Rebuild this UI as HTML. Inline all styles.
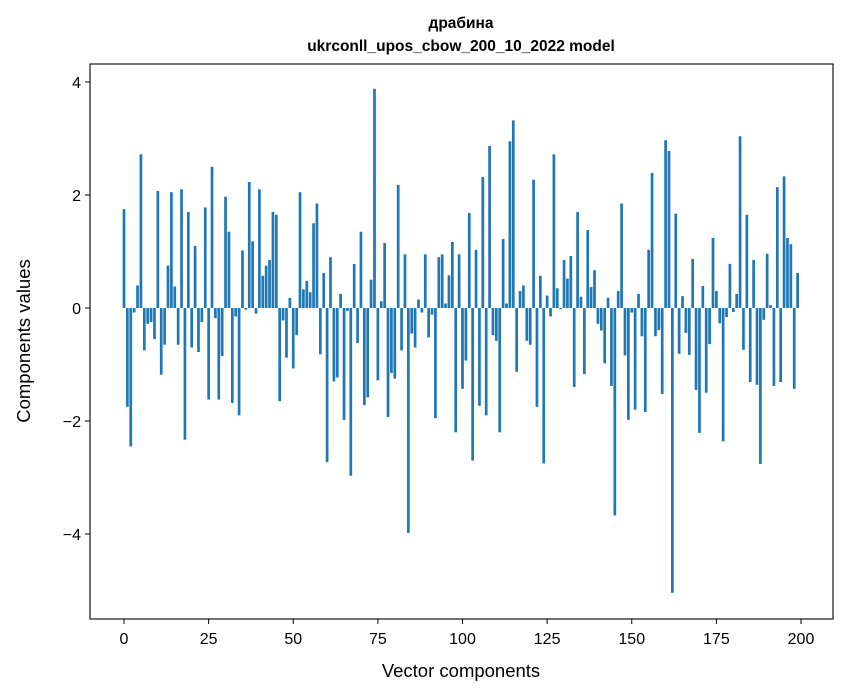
<!DOCTYPE html>
<html><head><meta charset="utf-8"><style>
body{margin:0;background:#fff;}
svg{display:block;font-family:"Liberation Sans","DejaVu Sans",sans-serif;}
</style></head><body>
<svg id="chart" width="847" height="696" viewBox="0 0 847 696">
<rect width="847" height="696" fill="#fff"/>
<text x="461" y="28" text-anchor="middle" font-size="15.5" font-weight="bold">драбина</text>
<text x="461" y="51" text-anchor="middle" font-size="15.5" font-weight="bold">ukrconll_upos_cbow_200_10_2022 model</text>
<g id="bars"></g>
<g id="axes"></g>
<text x="461" y="677" text-anchor="middle" font-size="18.5">Vector components</text>
<text transform="translate(30,341) rotate(-90)" text-anchor="middle" font-size="18.5">Components values</text>
</svg>
<script>
const values = [1.75,-1.75,-2.45,-0.08,0.4,2.72,-0.75,-0.28,-0.25,-0.55,2.07,-1.18,-0.65,0.75,2.05,0.38,-0.65,2.1,-2.33,1.7,
-0.7,1.1,-0.78,-0.25,1.78,-1.62,2.5,-0.18,-1.62,-0.85,1.97,1.35,-1.68,-0.15,-1.9,1.02,-0.03,2.23,1.18,-0.1,
2.1,0.57,0.75,0.85,1.7,1.65,-1.65,-0.22,-0.88,0.18,-1.07,-0.48,2.05,0.33,0.48,0.28,1.5,1.85,-0.82,0.62,
-2.73,0.9,-1.3,-1.23,0.25,-1.98,-0.05,-2.97,0.78,-0.62,1.35,-1.72,-1.58,0.5,3.88,-1.28,0.12,1.15,-1.93,-1.15,
-1.25,2.18,-0.75,0.95,-3.98,-0.45,-0.7,0.15,-0.08,0.95,-0.52,-0.12,-1.95,0.9,0.95,0.08,0.58,1.17,-2.2,0.95,
-1.43,-0.93,1.68,-2.7,1.03,-1.73,2.32,-1.9,2.87,-0.48,-0.58,-2.2,1.22,0.08,2.95,3.32,-1.13,0.3,0.4,-0.58,
-0.65,2.27,-1.75,0.57,-2.75,0.22,-0.15,2.72,0.35,-0.02,0.85,0.52,0.92,-1.4,1.7,0.2,-1.17,1.38,0.37,0.67,
-0.28,-0.4,-0.98,0.18,-1.38,-3.67,0.3,1.85,-0.84,-1.98,-0.08,-1.8,0.25,-0.5,-1.84,1.03,2.39,-0.5,-0.39,-1.52,
2.97,2.78,-5.04,1.67,-0.81,0.21,-0.44,-0.83,0.87,-1.45,-2.21,0.39,-1.5,-0.64,1.24,0.3,-0.27,-2.36,-0.16,0.78,
-0.07,0.25,3.04,-0.74,1.65,-1.31,0.85,-1.36,-2.76,-0.21,0.96,0.05,-1.38,2.14,-1.31,2.33,1.24,1.13,-1.43,0.62];
const xTicks = [0,25,50,75,100,125,150,175,200];
const yTicks = [-4,-2,0,2,4];
const L=90,R=833,T=64,B=619;
const xs = i => 124 + i*(801-124)/200;
const ys = v => 308 - v*56.5;
const NS="http://www.w3.org/2000/svg";
const bars=document.getElementById('bars');
const bw=0.8*(801-124)/200;
values.forEach((v,i)=>{
  const r=document.createElementNS(NS,'rect');
  
  
  const y0=ys(0),y1=ys(v);
  r.setAttribute('x',xs(i)-bw/2);
  r.setAttribute('y',Math.min(y0,y1));
  r.setAttribute('width',bw);
  r.setAttribute('height',Math.abs(y1-y0));
  r.setAttribute('fill','#1f77b4');
  bars.appendChild(r);
});
const ax=document.getElementById('axes');
const frame=document.createElementNS(NS,'rect');


frame.setAttribute('x',L);frame.setAttribute('y',T);frame.setAttribute('width',R-L);frame.setAttribute('height',B-T);
frame.setAttribute('fill','none');frame.setAttribute('stroke','#000');frame.setAttribute('stroke-width','1.1');
ax.appendChild(frame);
xTicks.forEach(t=>{
  const x=xs(t);
  const l=document.createElementNS(NS,'line');
  
  
  l.setAttribute('x1',x);l.setAttribute('x2',x);l.setAttribute('y1',B);l.setAttribute('y2',B+5);l.setAttribute('stroke','#000');
  ax.appendChild(l);
  const tx=document.createElementNS(NS,'text');
  
  
  tx.setAttribute('x',x);tx.setAttribute('y',B+25);tx.setAttribute('text-anchor','middle');tx.setAttribute('font-size','16');
  tx.textContent=t;ax.appendChild(tx);
});
yTicks.forEach(t=>{
  const y=ys(t);
  const l=document.createElementNS(NS,'line');
  
  
  l.setAttribute('x1',L-5);l.setAttribute('x2',L);l.setAttribute('y1',y);l.setAttribute('y2',y);l.setAttribute('stroke','#000');
  ax.appendChild(l);
  const tx=document.createElementNS(NS,'text');
  
  
  tx.setAttribute('x',L-9);tx.setAttribute('y',y+6);tx.setAttribute('text-anchor','end');tx.setAttribute('font-size','16');
  tx.textContent=t<0?'\u2212'+Math.abs(t):String(t);ax.appendChild(tx);
});
</script>
</body></html>
